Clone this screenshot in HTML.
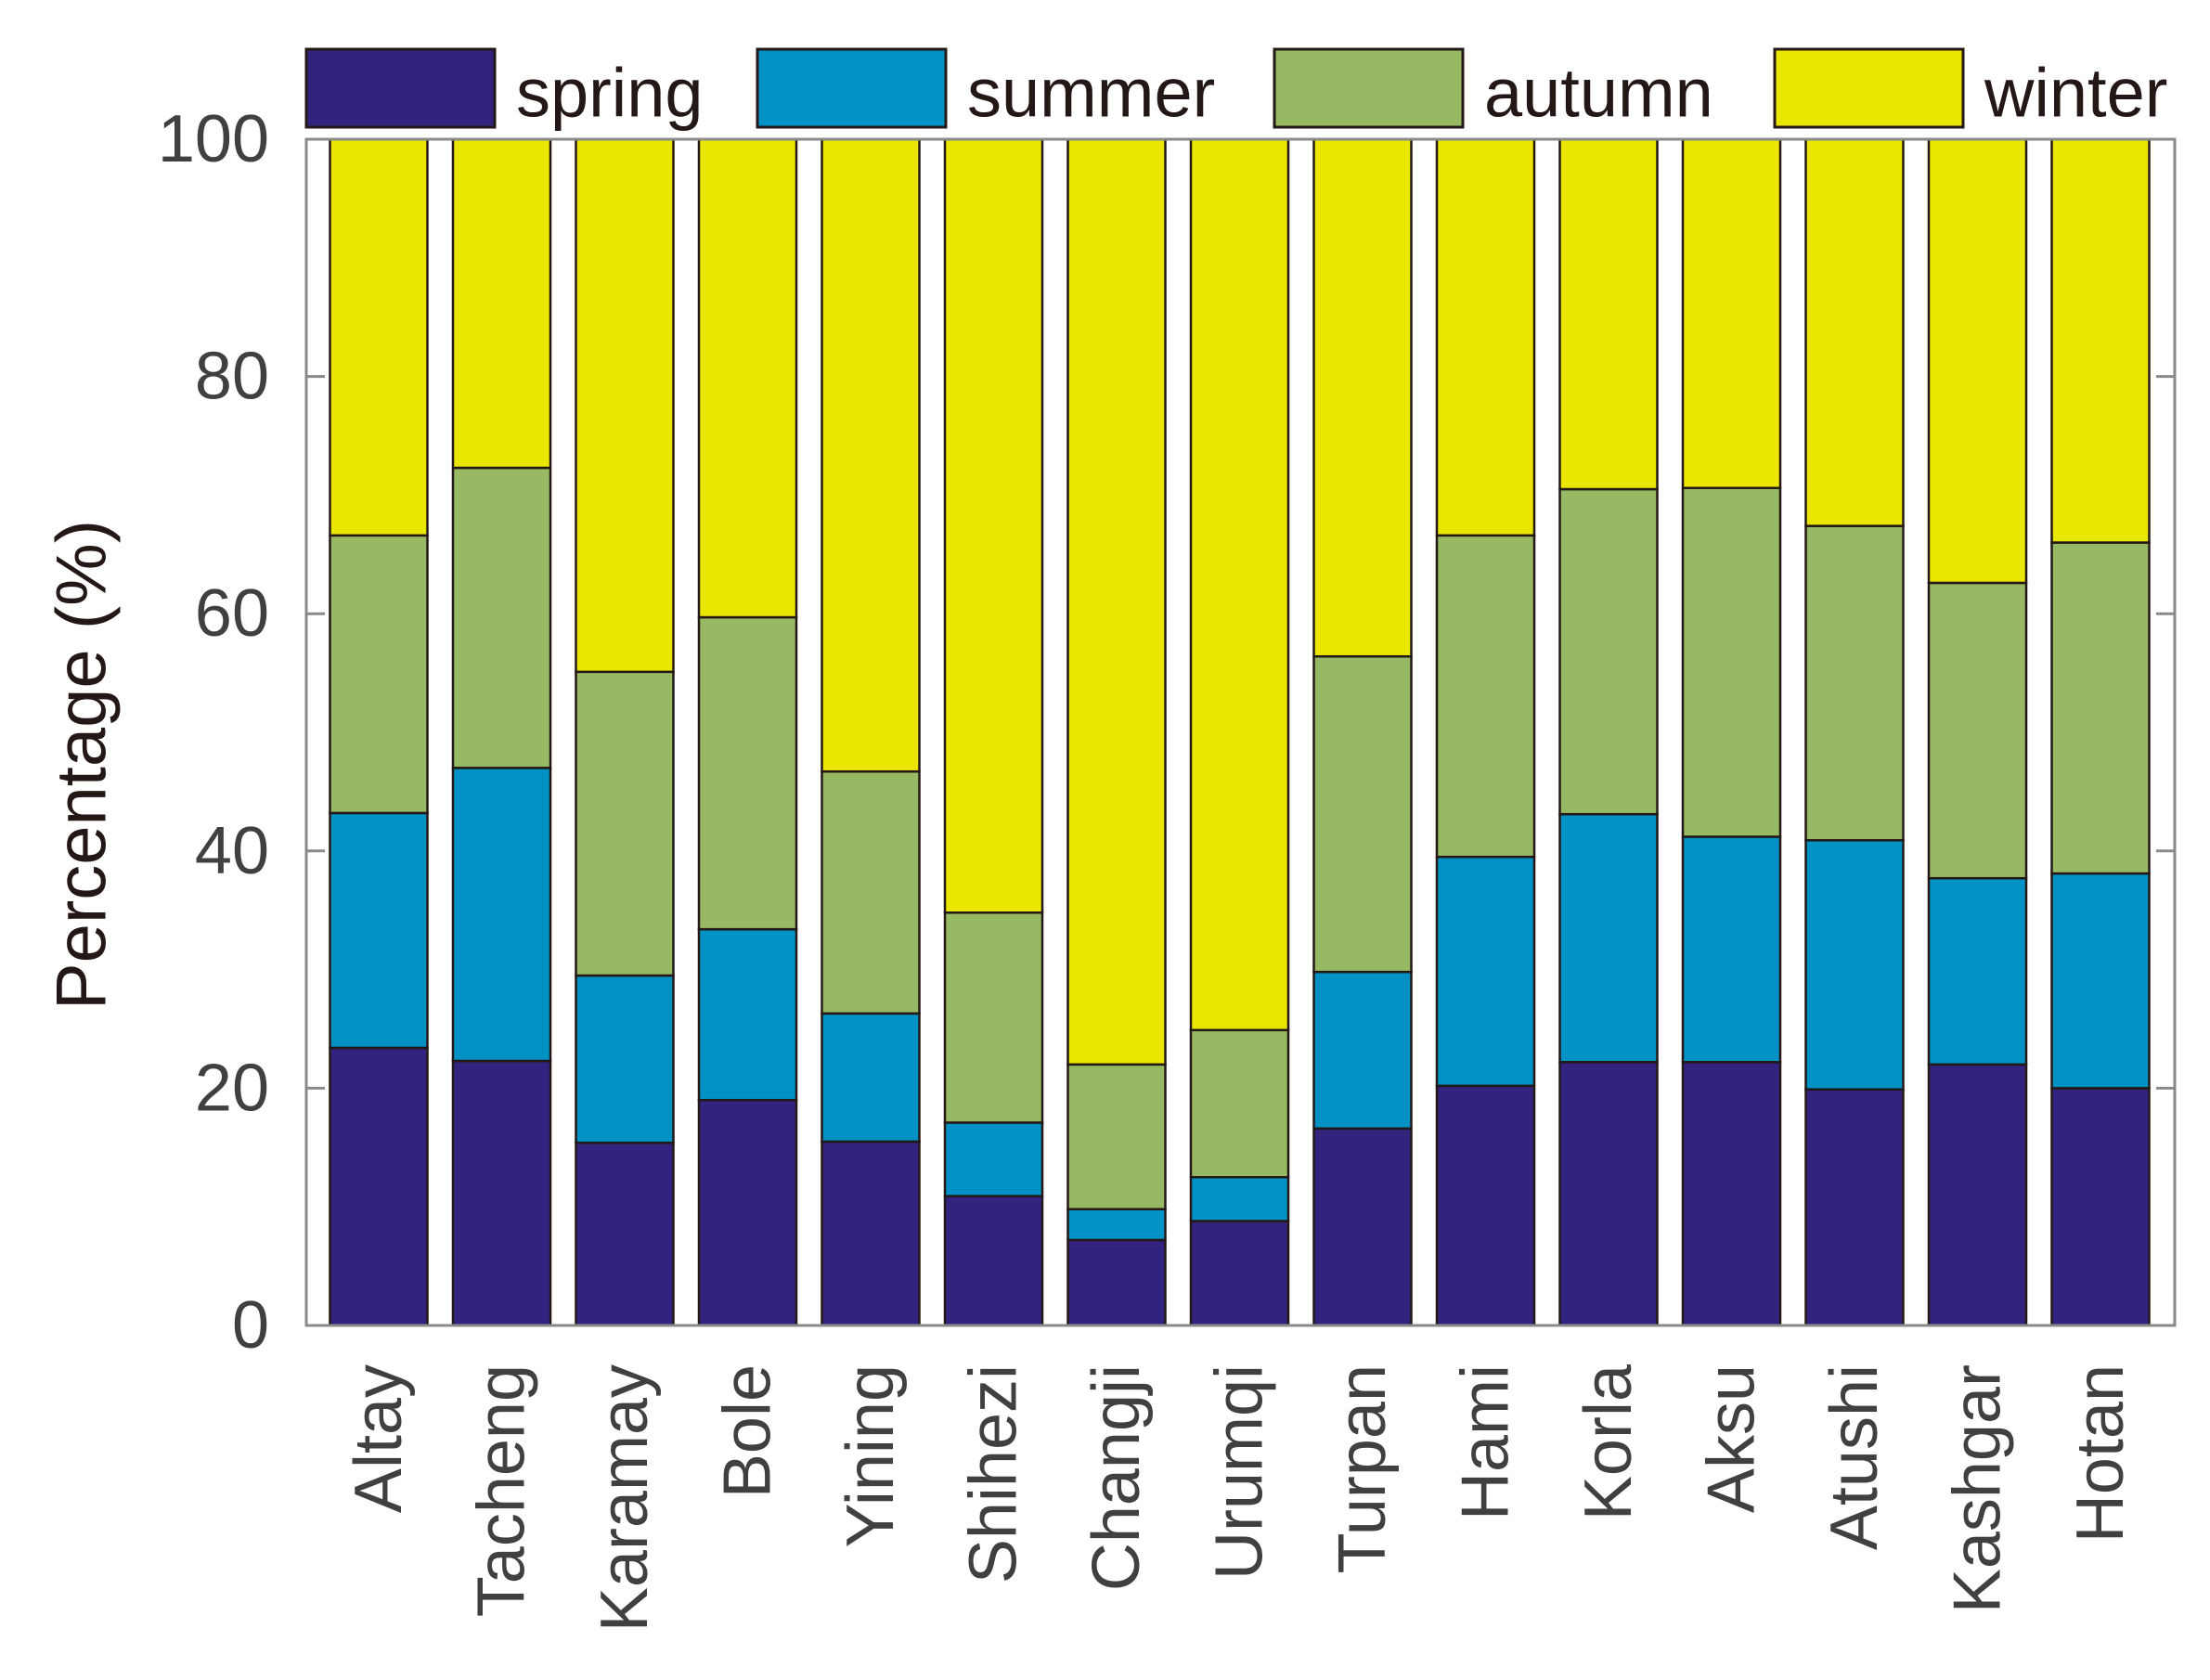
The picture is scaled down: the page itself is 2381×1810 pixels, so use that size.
<!DOCTYPE html>
<html><head><meta charset="utf-8"><style>
html,body{margin:0;padding:0;background:#fff}
svg text{font-family:"Liberation Sans",sans-serif}
</style></head><body>
<svg id="chart" width="2381" height="1805" viewBox="0 0 2381 1805" xmlns="http://www.w3.org/2000/svg"></svg>
<script>
const categories=["Altay","Tacheng","Karamay","Bole","Yining","Shihezi","Changji","Urumqi","Turpan","Hami","Korla","Aksu","Atushi","Kashgar","Hotan"];
const spring=[23.4,22.3,15.4,19.0,15.5,10.9,7.2,8.8,16.6,20.2,22.2,22.2,19.9,22.0,20.0];
const summer=[19.8,24.7,14.1,14.4,10.8,6.2,2.6,3.7,13.2,19.3,20.9,19.0,21.0,15.7,18.1];
const autumn=[23.4,25.3,25.6,26.3,20.4,17.7,12.2,12.4,26.6,27.1,27.4,29.4,26.5,24.9,27.9];
const winter=[33.4,27.7,44.9,40.3,53.3,65.2,78.0,75.1,43.6,33.4,29.5,29.4,32.6,37.4,34.0];
const seriesNames=["spring","summer","autumn","winter"];
const yTicks=[0,20,40,60,80,100];
const colors=["#31237e","#0092c4","#97b963","#ebe600"];
const NS="http://www.w3.org/2000/svg";
const svg=document.getElementById("chart");
const L=330,R=2343,T=150,B=1428;
const y=v=>B-(v/100)*(B-T);
const step=132.5;
const x=i=>L+78+i*step;
const bw=105;
function mk(tag,attrs,parent){const e=document.createElementNS(NS,tag);for(const k in attrs)e.setAttribute(k,attrs[k]);(parent||svg).appendChild(e);return e;}
const series=[spring,summer,autumn,winter];
categories.forEach((c,i)=>{
  let base=0;
  series.forEach((s,j)=>{
    const v=s[i];
    const r=mk("rect",{x:x(i)-bw/2,y:y(base+v),width:bw,height:y(base)-y(base+v),fill:colors[j],stroke:"#231815","stroke-width":2.5});
    
    
    base+=v;
  });
  const t=mk("text",{x:0,y:0,"font-size":72,fill:"#404040","text-anchor":"end","dominant-baseline":"central",transform:`translate(${x(i)},1470) rotate(-90)`});
  t.textContent=c;
  
  
});
const frame=mk("rect",{x:L,y:T,width:R-L,height:B-T,fill:"none",stroke:"#8a8a8a","stroke-width":3});


yTicks.forEach(v=>{
  if(v>0&&v<100){
    const a=mk("line",{x1:L,x2:L+20,y1:y(v),y2:y(v),stroke:"#8a8a8a","stroke-width":3});
    
    
    const b=mk("line",{x1:R,x2:R-20,y1:y(v),y2:y(v),stroke:"#8a8a8a","stroke-width":3});
    
    
  }
  const t=mk("text",{x:290,y:y(v),"font-size":72,fill:"#404040","text-anchor":"end","dominant-baseline":"central"});
  t.textContent=v;
  
  
});
const yl=mk("text",{x:0,y:0,"font-size":76,fill:"#231815","text-anchor":"middle","dominant-baseline":"central",transform:"translate(88,824) rotate(-90)"});
yl.textContent="Percentage (%)";


const legX=[330,816,1373,1912];
seriesNames.forEach((n,j)=>{
  const r=mk("rect",{x:legX[j],y:53,width:203,height:84,fill:colors[j],stroke:"#231815","stroke-width":3});
  
  
  const t=mk("text",{x:legX[j]+226,y:100,"font-size":74,fill:"#231815","dominant-baseline":"central"});
  t.textContent=n;
  
  
});
</script>
</body></html>
